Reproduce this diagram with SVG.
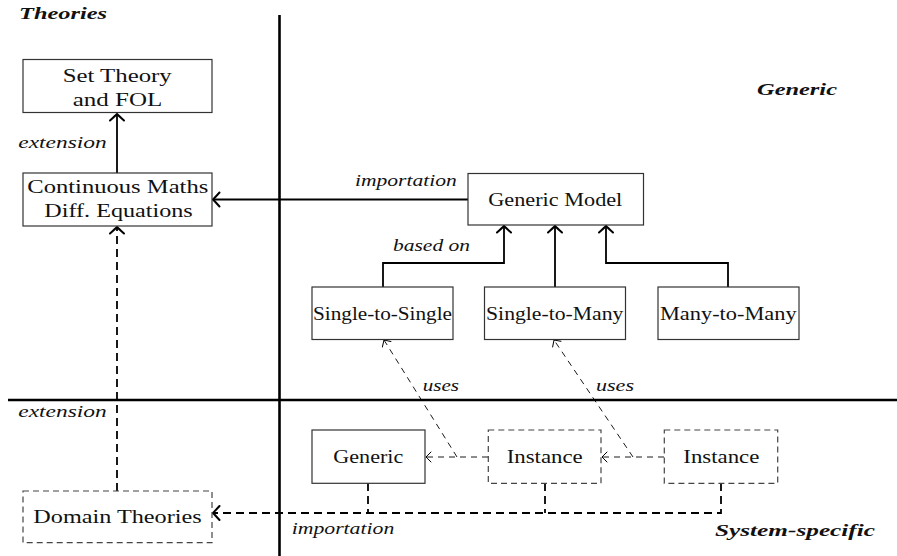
<svg xmlns="http://www.w3.org/2000/svg" width="897" height="556" viewBox="0 0 897 556">
<style>
  .box{fill:#fff;stroke:#333;stroke-width:1.2}
  .dbox{fill:#fff;stroke:#444;stroke-width:1.2;stroke-dasharray:6 4}
  .t{font-size:19px;fill:#111;text-anchor:middle}
  .lab{font-size:16px;font-style:italic;fill:#111}
  .title{font-size:17px;font-style:italic;font-weight:bold;fill:#111}
  .axis{stroke:#000;stroke-width:2.6;fill:none}
  .solid{stroke:#000;stroke-width:1.8;fill:none}
  .dthick{stroke:#000;stroke-width:1.8;fill:none;stroke-dasharray:8 5}
  .dthin{stroke:#000;stroke-width:0.9;fill:none;stroke-dasharray:6 5}
</style>
<defs>
  <marker id="ah" markerUnits="userSpaceOnUse" viewBox="-8 -8 10 16" refX="0" refY="0" markerWidth="10" markerHeight="16" orient="auto" overflow="visible">
    <path d="M-6.5,-7 Q-1.5,-1.5 0,0 Q-1.5,1.5 -6.5,7" fill="none" stroke="#000" stroke-width="2" stroke-dasharray="none" stroke-linecap="round"/>
  </marker>
  <marker id="ahs" markerUnits="userSpaceOnUse" viewBox="-8 -8 10 16" refX="0" refY="0" markerWidth="10" markerHeight="16" orient="auto" overflow="visible">
    <path d="M-5,-5 Q-1.2,-1.2 0,0 Q-1.2,1.2 -5,5" fill="none" stroke="#000" stroke-width="1" stroke-dasharray="none" stroke-linecap="round"/>
  </marker>
</defs>
<rect width="897" height="556" fill="#fff"/>

<g id="axes">
  <line class="axis" x1="279.5" y1="15" x2="279.5" y2="556"/>
  <line class="axis" x1="8" y1="400" x2="897" y2="400"/>
</g>

<g font-family="Liberation Serif, Times New Roman, serif">
<g id="titles">
  <text class="title" x="19" y="19" textLength="88" lengthAdjust="spacingAndGlyphs">Theories</text>
  <text class="title" x="757" y="95" textLength="80" lengthAdjust="spacingAndGlyphs">Generic</text>
  <text class="title" x="715" y="536" textLength="160" lengthAdjust="spacingAndGlyphs">System-specific</text>
</g>

<g id="connectors">
  <path class="solid" d="M117,173 V114" marker-end="url(#ah)"/>
  <path class="solid" d="M468,199.5 H213" marker-end="url(#ah)"/>
  <path class="solid" d="M383,287 V263 H504 V226" marker-end="url(#ah)"/>
  <path class="solid" d="M555,287 V226" marker-end="url(#ah)"/>
  <path class="solid" d="M728,287 V263 H606 V226" marker-end="url(#ah)"/>
  <path class="dthick" d="M117,491 V227" marker-end="url(#ah)"/>
  <path class="dthick" d="M368,483 V513"/>
  <path class="dthick" d="M545,483 V513"/>
  <path class="dthick" d="M721,483 V513 H213" marker-end="url(#ah)"/>
  <path class="dthin" d="M488,457 H426" marker-end="url(#ahs)"/>
  <path class="dthin" d="M457,457 L384,340" marker-end="url(#ahs)"/>
  <path class="dthin" d="M664,457 H602" marker-end="url(#ahs)"/>
  <path class="dthin" d="M633,457 L554,340" marker-end="url(#ahs)"/>
</g>

<g id="labels">
  <text class="lab" x="18.3" y="148" textLength="88.4" lengthAdjust="spacingAndGlyphs">extension</text>
  <text class="lab" x="355" y="186" textLength="101.7" lengthAdjust="spacingAndGlyphs">importation</text>
  <text class="lab" x="393" y="251" textLength="77" lengthAdjust="spacingAndGlyphs">based on</text>
  <text class="lab" x="422.7" y="390.5" textLength="36.3" lengthAdjust="spacingAndGlyphs">uses</text>
  <text class="lab" x="596" y="390.5" textLength="38" lengthAdjust="spacingAndGlyphs">uses</text>
  <text class="lab" x="18.3" y="416.5" textLength="88.4" lengthAdjust="spacingAndGlyphs">extension</text>
  <text class="lab" x="291.7" y="534" textLength="102.6" lengthAdjust="spacingAndGlyphs">importation</text>
</g>

<g id="set-theory">
  <rect class="box" x="23" y="59.5" width="189" height="53"/>
  <text class="t" x="117.2" y="81.7" textLength="109" lengthAdjust="spacingAndGlyphs">Set Theory</text>
  <text class="t" x="117.5" y="106" textLength="89.6" lengthAdjust="spacingAndGlyphs">and FOL</text>
</g>
<g id="continuous-maths">
  <rect class="box" x="23" y="173" width="189" height="53"/>
  <text class="t" x="117.8" y="193" textLength="181" lengthAdjust="spacingAndGlyphs">Continuous Maths</text>
  <text class="t" x="118.5" y="216.5" textLength="148.4" lengthAdjust="spacingAndGlyphs">Diff. Equations</text>
</g>
<g id="generic-model">
  <rect class="box" x="468" y="173.5" width="175.5" height="51.5"/>
  <text class="t" x="555.3" y="206" textLength="134" lengthAdjust="spacingAndGlyphs">Generic Model</text>
</g>
<g id="single-to-single">
  <rect class="box" x="312" y="287" width="141" height="52.5"/>
  <text class="t" x="382.5" y="319.5" textLength="139" lengthAdjust="spacingAndGlyphs">Single-to-Single</text>
</g>
<g id="single-to-many">
  <rect class="box" x="484.5" y="287" width="141" height="52.5"/>
  <text class="t" x="554.7" y="319.5" textLength="137.3" lengthAdjust="spacingAndGlyphs">Single-to-Many</text>
</g>
<g id="many-to-many">
  <rect class="box" x="658" y="287" width="141" height="52.5"/>
  <text class="t" x="728.3" y="319.5" textLength="136.7" lengthAdjust="spacingAndGlyphs">Many-to-Many</text>
</g>
<g id="generic">
  <rect class="box" x="312" y="430" width="113" height="53.3"/>
  <text class="t" x="368.3" y="463" textLength="70" lengthAdjust="spacingAndGlyphs">Generic</text>
</g>
<g id="instance-1">
  <rect class="dbox" x="488.3" y="430" width="112.7" height="53.3"/>
  <text class="t" x="544.7" y="463" textLength="76" lengthAdjust="spacingAndGlyphs">Instance</text>
</g>
<g id="instance-2">
  <rect class="dbox" x="664.3" y="430" width="113.4" height="53.3"/>
  <text class="t" x="721.3" y="463" textLength="76" lengthAdjust="spacingAndGlyphs">Instance</text>
</g>
<g id="domain-theories">
  <rect class="dbox" x="23" y="491" width="189" height="51.7"/>
  <text class="t" x="117.5" y="523" textLength="168.4" lengthAdjust="spacingAndGlyphs">Domain Theories</text>
</g>
</g>
</svg>
